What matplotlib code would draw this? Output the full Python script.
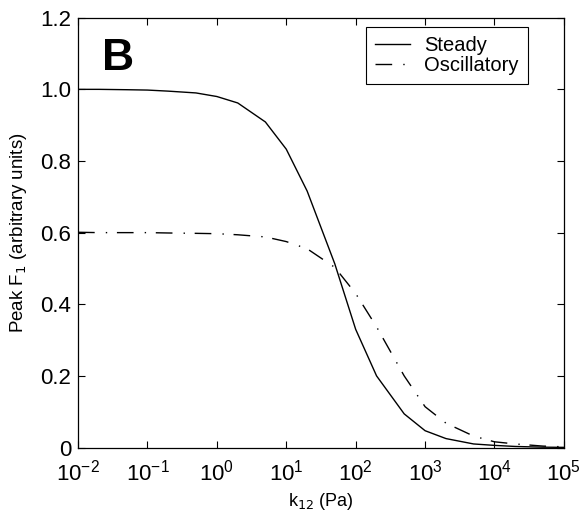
#code to plot peak F1 against k12 (steady vs oscillatory)
import numpy as np
import matplotlib
matplotlib.use('Agg')
import matplotlib.pyplot as plt

plt.rcParams['font.family'] = ['Liberation Sans', 'DejaVu Sans']

k12 = [0.01, 0.02, 0.05, 0.1, 0.2, 0.5, 1, 2, 5, 10, 20, 50,
       100, 200, 500, 1000, 2000, 5000, 1e4, 2e4, 5e4, 1e5]

steady = [1.0, 1.0, 0.999, 0.998, 0.995, 0.99, 0.98, 0.962, 0.909, 0.833,
          0.716, 0.513, 0.33, 0.2, 0.094, 0.047, 0.025, 0.01, 0.006,
          0.003, 0.001, 0.0005]

oscillatory = [0.601, 0.6, 0.6, 0.6, 0.599, 0.598, 0.597, 0.594, 0.588,
               0.575, 0.555, 0.503, 0.43, 0.337, 0.2, 0.114, 0.068,
               0.032, 0.016, 0.01, 0.004, 0.002]

fig = plt.figure(figsize=(5.84, 5.21), dpi=100)
ax = fig.add_axes([0.1336, 0.141, 0.832, 0.825])

ax.plot(k12, steady, '-', color='k', lw=1.0, label='Steady')
ax.plot(k12, oscillatory, color='k', lw=1.0, linestyle=(0, (12, 8, 1, 7)),
        label='Oscillatory')

ax.set_xscale('log')
ax.set_xlim(1e-2, 1e5)
ax.set_ylim(0, 1.2)
ax.set_xticks([1e-2, 1e-1, 1e0, 1e1, 1e2, 1e3, 1e4, 1e5])
ax.xaxis.set_minor_locator(matplotlib.ticker.NullLocator())
ax.set_yticks([0, 0.2, 0.4, 0.6, 0.8, 1.0, 1.2])
ax.set_yticklabels(['0', '0.2', '0.4', '0.6', '0.8', '1.0', '1.2'])

ax.tick_params(direction='in', top=True, right=True, length=5, width=0.8,
               labelsize=16)
ax.tick_params(axis='x', pad=9)
ax.tick_params(axis='y', pad=5)
for s in ax.spines.values():
    s.set_linewidth(0.9)

ax.set_xlabel('k$_{12}$ (Pa)', fontsize=13, labelpad=4)
ax.set_ylabel('Peak F$_1$ (arbitrary units)', fontsize=13.5, labelpad=8)

ax.text(0.049, 0.952, 'B', transform=ax.transAxes, fontsize=32,
        fontweight='bold', va='top', ha='left')

leg = ax.legend(loc='upper right', bbox_to_anchor=(0.926, 0.978), fontsize=14.5,
                fancybox=False, framealpha=1, edgecolor='k',
                handlelength=1.75, borderpad=0.45, labelspacing=0.02,
                handletextpad=0.7, borderaxespad=0)
leg.get_frame().set_linewidth(0.8)

fig.savefig('out.png', dpi=100)
